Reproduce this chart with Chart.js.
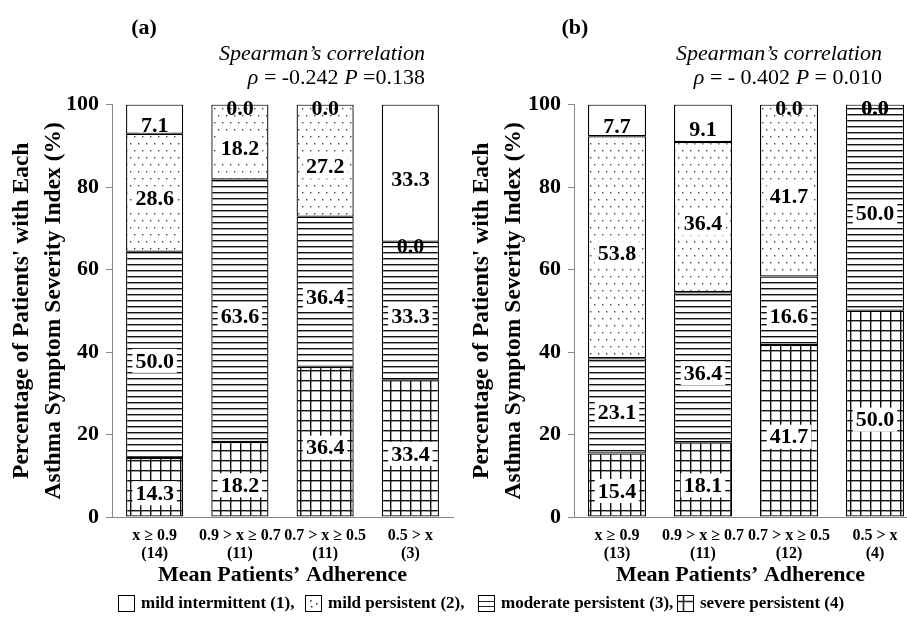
<!DOCTYPE html>
<html><head><meta charset="utf-8">
<script src="https://cdn.jsdelivr.net/npm/chart.js@4.4.0/dist/chart.umd.min.js"></script>
<style>
html,body{margin:0;padding:0;background:#fff;width:907px;height:625px;overflow:hidden;font-family:"Liberation Serif","Times New Roman",serif;color:#000;}
#wrap{position:relative;width:907px;height:625px;}
canvas.chart{position:absolute;top:0;}
.panel{position:absolute;top:14px;font-weight:bold;font-size:22px;line-height:26px;width:60px;text-align:center;}
.spear{position:absolute;font-size:22px;line-height:25px;text-align:right;width:300px;white-space:nowrap;}
.legitem{position:absolute;top:594px;display:flex;align-items:center;font-weight:bold;font-size:17px;line-height:18px;white-space:nowrap;}
.legitem canvas{margin-right:6px;}
</style>
</head>
<body>
<div id="wrap">
  <canvas id="chartA" class="chart" width="460" height="600" style="left:0px"></canvas>
  <canvas id="chartB" class="chart" width="447" height="600" style="left:460px"></canvas>
  <div class="panel" style="left:114px">(a)</div>
  <div class="panel" style="left:545px">(b)</div>
  <div class="spear" style="left:125px;top:40px"><i>Spearman’s correlation</i></div>
  <div class="spear" style="left:125px;top:64px"><i>ρ</i> = -0.242 <i>P</i> =0.138</div>
  <div class="spear" style="left:582px;top:40px"><i>Spearman’s correlation</i></div>
  <div class="spear" style="left:582px;top:64px"><i>ρ</i> = - 0.402 <i>P</i> = 0.010</div>
  <div id="legend"></div>
</div>
<script>
// ---- data ----
const rangeLabels = ['x ≥ 0.9', '0.9 > x ≥ 0.7', '0.7 > x ≥ 0.5', '0.5 > x'];
const countsA = ['(14)', '(11)', '(11)', '(3)'];
const countsB = ['(13)', '(11)', '(12)', '(4)'];
const seriesNames = ['severe persistent (4)', 'moderate persistent (3)', 'mild persistent (2)', 'mild intermittent (1)'];
const severeA = [14.3, 18.2, 36.4, 33.4];
const moderateA = [50.0, 63.6, 36.4, 33.3];
const mildPersistentA = [28.6, 18.2, 27.2, 0.0];
const mildIntermittentA = [7.1, 0.0, 0.0, 33.3];
const severeB = [15.4, 18.1, 41.7, 50.0];
const moderateB = [23.1, 36.4, 16.6, 50.0];
const mildPersistentB = [53.8, 36.4, 41.7, 0.0];
const mildIntermittentB = [7.7, 9.1, 0.0, 0.0];
const yTicks = [0, 20, 40, 60, 80, 100];
const yTitle = ["Percentage of Patients' with Each", 'Asthma Symptom Severity Index (%)'];
const xTitle = 'Mean Patients’ Adherence';
const legendLabels = ['mild intermittent (1),', 'mild persistent (2),', 'moderate persistent (3),', 'severe persistent (4)'];

const SERIF = '"Liberation Serif", "Times New Roman", serif';

function makePattern(ctx, kind) {
  const c = document.createElement('canvas');
  const g = c.getContext('2d');
  if (kind === 'dots') {
    c.width = 8; c.height = 14;
    g.fillStyle = '#fff'; g.fillRect(0, 0, 8, 14);
    g.fillStyle = '#444';
    g.fillRect(2, 3, 1.4, 1.4);
    g.fillRect(6, 10, 1.4, 1.4);
  } else if (kind === 'lines') {
    c.width = 8; c.height = 6;
    g.fillStyle = '#fff'; g.fillRect(0, 0, 8, 6);
    g.fillStyle = '#111'; g.fillRect(0, 0, 8, 1.4);
  } else if (kind === 'grid') {
    c.width = 10; c.height = 10;
    g.fillStyle = '#fff'; g.fillRect(0, 0, 10, 10);
    g.fillStyle = '#111';
    g.fillRect(0, 0, 10, 1.4);
    g.fillRect(0, 0, 1.4, 10);
  }
  return ctx.createPattern(c, 'repeat');
}

const valueLabelPlugin = {
  id: 'valueLabels',
  afterDatasetsDraw(chart) {
    const ctx = chart.ctx;
    ctx.save();
    ctx.font = 'bold 22px ' + SERIF;
    ctx.textAlign = 'center';
    ctx.textBaseline = 'middle';
    chart.data.datasets.forEach((ds, i) => {
      const meta = chart.getDatasetMeta(i);
      meta.data.forEach((bar, j) => {
        const v = ds.data[j].y;
        const txt = v.toFixed(1);
        const x = bar.x;
        let y;
        if (v === 0) {
          y = bar.y + 4;
        } else {
          y = (bar.y + bar.base) / 2 + 6;
          const w = ctx.measureText(txt).width;
          ctx.save();
          ctx.beginPath();
          const top = Math.min(bar.y, bar.base) + 1.2, bot = Math.max(bar.y, bar.base) - 1.2;
          ctx.rect(x - bar.width / 2 + 1.2, top, bar.width - 2.4, bot - top);
          ctx.clip();
          ctx.fillStyle = '#fff';
          ctx.fillRect(x - w / 2 - 3, y - 12, w + 6, 24);
          ctx.restore();
        }
        ctx.fillStyle = '#000';
        ctx.fillText(txt, x, y + 1);
      });
    });
    ctx.restore();
  }
};

function buildChart(id, severe, moderate, mildP, mildI, counts, xMax, yWidth, padRight, barPct) {
  const canvas = document.getElementById(id);
  const ctx = canvas.getContext('2d');
  const fills = [makePattern(ctx, 'grid'), makePattern(ctx, 'lines'), makePattern(ctx, 'dots'), '#ffffff'];
  const series = [severe, moderate, mildP, mildI];
  const datasets = series.map((arr, k) => ({
    label: seriesNames[k],
    data: arr.map((v, i) => ({ x: i, y: v })),
    backgroundColor: fills[k],
    borderColor: '#000',
    borderWidth: 1.3,
    borderSkipped: false,
    categoryPercentage: 1.0,
    barPercentage: barPct
  }));
  return new Chart(ctx, {
    type: 'bar',
    data: { datasets },
    plugins: [valueLabelPlugin],
    options: {
      responsive: false,
      animation: false,
      devicePixelRatio: 1,
      layout: { padding: { left: 5, top: 104.5, right: padRight, bottom: 11 } },
      plugins: { legend: { display: false }, tooltip: { enabled: false }, title: { display: false } },
      scales: {
        x: {
          type: 'linear',
          stacked: true,
          min: -0.5,
          max: xMax,
          offset: false,
          grid: { display: false, drawTicks: false },
          border: { display: true, color: '#888', width: 1 },
          afterBuildTicks: (scale) => { scale.ticks = [0, 1, 2, 3].map(v => ({ value: v })); },
          afterFit: (scale) => { scale.height = 72; scale.paddingLeft = 0; scale.paddingRight = 0; },
          ticks: {
            autoSkip: false,
            maxRotation: 0,
            minRotation: 0,
            padding: 10,
            color: '#000',
            font: { family: SERIF, size: 16, weight: 'bold', lineHeight: 1.1 },
            callback: (value) => [rangeLabels[value], counts[value]]
          },
          title: {
            display: true,
            text: xTitle,
            color: '#000',
            padding: { top: 0, bottom: 0 },
            font: { family: SERIF, size: 22, weight: 'bold', lineHeight: 1.2 }
          }
        },
        y: {
          stacked: true,
          min: 0,
          max: 100,
          afterBuildTicks: (scale) => { scale.ticks = yTicks.map(v => ({ value: v })); },
          afterFit: (scale) => { scale.width = yWidth; },
          grid: { display: true, drawOnChartArea: false, drawTicks: true, tickLength: 6, color: '#888', lineWidth: 1 },
          border: { display: true, color: '#888', width: 1 },
          ticks: {
            padding: 7,
            color: '#000',
            font: { family: SERIF, size: 22, weight: 'bold' }
          },
          title: {
            display: true,
            text: yTitle,
            color: '#000',
            padding: { top: 0, bottom: 0 },
            font: { family: SERIF, size: 23.5, weight: 'bold', lineHeight: 1.4 }
          }
        }
      }
    }
  });
}

buildChart('chartA', severeA, moderateA, mildPersistentA, mildIntermittentA, countsA, 3.5, 107, 7, 0.67);
buildChart('chartB', severeB, moderateB, mildPersistentB, mildIntermittentB, countsB, 3.372, 109, 0, 0.675);

// ---- legend (HTML) ----
const legendKinds = ['white', 'dots', 'lines', 'grid'];
const legendLeft = [118, 305, 478, 677];
const legend = document.getElementById('legend');
legendLabels.forEach((txt, k) => {
  const item = document.createElement('div');
  item.className = 'legitem';
  item.style.left = legendLeft[k] + 'px';
  const c = document.createElement('canvas');
  c.width = 17; c.height = 17;
  const g = c.getContext('2d');
  g.fillStyle = '#fff'; g.fillRect(0, 0, 17, 17);
  g.fillStyle = '#222'; g.strokeStyle = '#222'; g.lineWidth = 1;
  const kind = legendKinds[k];
  if (kind === 'dots') {
    [[5, 5], [11, 8], [6, 11]].forEach(p => g.fillRect(p[0], p[1], 1.5, 1.5));
  } else if (kind === 'lines') {
    g.beginPath(); g.moveTo(1, 6.5); g.lineTo(16, 6.5); g.moveTo(1, 11.5); g.lineTo(16, 11.5); g.stroke();
  } else if (kind === 'grid') {
    g.lineWidth = 1.6;
    g.beginPath(); g.moveTo(6.5, 1); g.lineTo(6.5, 16); g.moveTo(1, 6.5); g.lineTo(16, 6.5); g.stroke();
  }
  g.lineWidth = 1; g.strokeStyle = '#000';
  g.strokeRect(0.5, 0.5, 16, 16);
  item.appendChild(c);
  const s = document.createElement('span');
  s.textContent = txt;
  item.appendChild(s);
  legend.appendChild(item);
});
</script>
</body></html>
